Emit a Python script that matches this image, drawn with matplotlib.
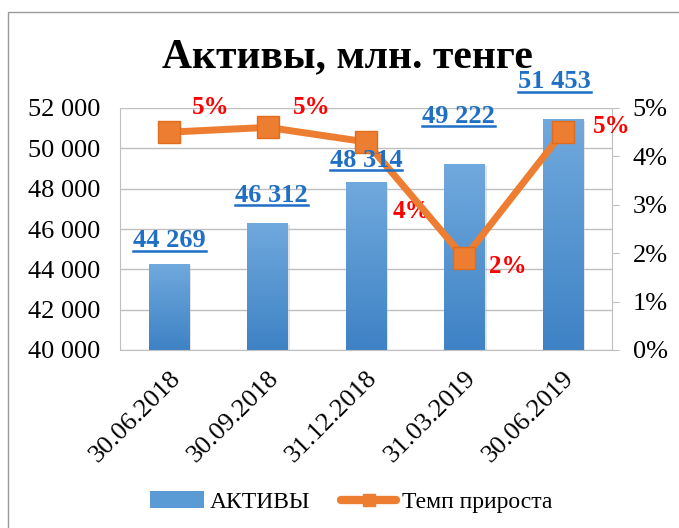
import numpy as np
import matplotlib
matplotlib.use('Agg')
import matplotlib.pyplot as plt
from matplotlib.patches import Rectangle, Patch
from matplotlib.lines import Line2D

dates = ['30.06.2018', '30.09.2018', '31.12.2018', '31.03.2019', '30.06.2019']
assets = [44269, 46312, 48314, 49222, 51453]
growth = [4.5, 4.6, 4.3, 1.9, 4.5]
growth_labels = ['5%', '5%', '4%', '2%', '5%']
asset_labels = ['44 269', '46 312', '48 314', '49 222', '51 453']

plt.rcParams['font.family'] = ['Liberation Serif', 'DejaVu Serif']

fig = plt.figure(figsize=(6.79, 5.28), dpi=100)
# chart border (only left/top visible in the crop)
fig.patches.append(Rectangle((8 / 679, -0.1), 1.2, 1.0 - 12 / 528 + 0.1,
                             transform=fig.transFigure, fill=False,
                             edgecolor='#9a9a9a', linewidth=1.0))

ax = fig.add_axes([120 / 679, 1 - 350 / 528, 492 / 679, 242 / 528])
x = np.arange(len(dates))

ax.set_yticks(np.arange(40000, 52001, 2000))
ax.set_yticklabels([f'{v // 1000} 000' for v in range(40000, 52001, 2000)], fontsize=19)
ax.grid(axis='y', color='#bfbfbf', linewidth=1.0)
ax.set_axisbelow(True)
for s in ['top', 'right']:
    ax.spines[s].set_visible(False)
ax.spines['left'].set_color('#bfbfbf')
ax.spines['bottom'].set_color('#bfbfbf')
ax.tick_params(axis='y', length=0, pad=14)
ax.tick_params(axis='x', length=0, pad=12)
ax.set_xticks(x)
ax.set_xticklabels(dates, rotation=45, ha='right', rotation_mode='anchor', fontsize=19)

# bars with vertical gradient
bw = 0.41
grad = np.linspace(0, 1, 256).reshape(-1, 1)
cmap = matplotlib.colors.LinearSegmentedColormap.from_list('b', ['#3e82c5', '#70a9dd'])
bars = ax.bar(x, assets, width=bw, color='#5b9bd5', zorder=2)
for b in bars:
    ax.add_patch(Rectangle((b.get_x() + 0.02, 40000), b.get_width(), b.get_height() - 40000 - 100,
                           color='#c8c8c8', alpha=0.5, zorder=1.5, linewidth=0))
    im = ax.imshow(grad, cmap=cmap, aspect='auto', origin='lower',
                   extent=[b.get_x(), b.get_x() + b.get_width(), 40000, b.get_height()],
                   zorder=2.1)
    im.set_clip_path(b)
ax.set_xlim(-0.5, len(dates) - 0.5)
ax.set_ylim(40000, 52000)

ax2 = ax.twinx()
ax2.set_ylim(0, 5)
ax2.set_yticks(range(0, 6))
ax2.set_yticklabels([f'{v}%' for v in range(0, 6)], fontsize=19)
for s in ['top', 'left', 'bottom']:
    ax2.spines[s].set_visible(False)
ax2.spines['right'].set_color('#bfbfbf')
ax2.tick_params(axis='y', length=5, color='#bfbfbf', pad=10)
ax2.plot(x, growth, color='#ed7d31', linewidth=5, marker='s', markersize=16,
         markerfacecolor='#ed7d31', markeredgecolor='#e06c1c', zorder=4)

# value labels (blue, bold, underlined) drawn above the line
offsets = [(0, 12), (3, 15), (0, 11), (-4, 29.5), (-6, 22)]
value_texts = []
for i, (lab, off) in enumerate(zip(asset_labels, offsets)):
    t = ax2.annotate(lab, (x[i], assets[i]), xycoords=ax.transData,
                     xytext=off, textcoords='offset points',
                     ha='center', va='baseline', fontsize=19, fontweight='bold',
                     color='#1f6fc5', zorder=6)
    value_texts.append(t)

g_off = [(30, 18), (32, 14), (33, -50), (31, -6), (35, 4)]
for i, (lab, off) in enumerate(zip(growth_labels, g_off)):
    ax2.annotate(lab, (x[i], growth[i]), xytext=off, textcoords='offset points',
                 ha='center', va='center', fontsize=18, fontweight='bold', color='red')

# underline the value labels
fig.canvas.draw()
for t in value_texts:
    bb = t.get_window_extent()
    y0 = bb.y0 + 0.2 * bb.height - 3
    fig.add_artist(Line2D([bb.x0, bb.x1], [y0, y0], transform=None,
                          color='#1f6fc5', linewidth=1.8, zorder=6))

fig.text(347 / 679, 1 - 57 / 528, 'Активы, млн. тенге', ha='center', va='center',
         fontsize=30, fontweight='bold')

handles = [Patch(facecolor='#5b9bd5'),
           Line2D([], [], color='#ed7d31', linewidth=6, marker='s', markersize=9,
                  solid_capstyle='round')]
fig.legend(handles, ['АКТИВЫ', 'Темп прироста'], loc='center', ncol=2,
           bbox_to_anchor=(351 / 679, 1 - 502 / 528), frameon=False, fontsize=17,
           handlelength=2.3, columnspacing=1.3, handletextpad=0.25)

fig.savefig('out.png', dpi=100)
